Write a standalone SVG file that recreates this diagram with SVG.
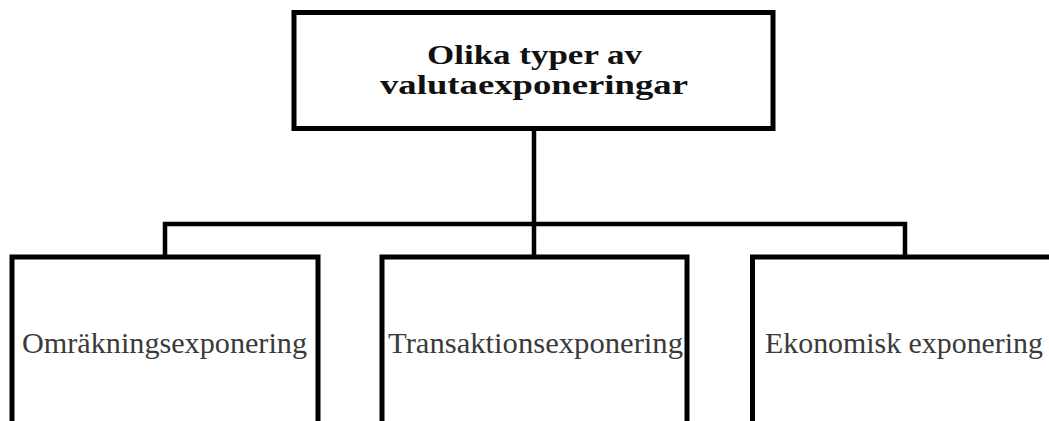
<svg xmlns="http://www.w3.org/2000/svg" width="1049" height="421" viewBox="0 0 1049 421">
  <style>
    .box { fill: #ffffff; stroke: #000000; stroke-width: 5; }
    .wire { fill: none; stroke: #000000; stroke-width: 4.5; }
    .title { font-family: "Liberation Serif", "DejaVu Serif", serif; font-weight: bold; font-size: 27px; fill: #111111; }
    .label { font-family: "Liberation Serif", "DejaVu Serif", serif; font-size: 29px; fill: #3a3a3a; }
  </style>
  <rect width="1049" height="421" fill="#ffffff"/>

  <!-- tree connectors -->
  <g id="connectors">
    <path class="wire" d="M534,128 V224"/>
    <path class="wire" d="M165,257 V224 H905 V257"/>
    <path class="wire" d="M534,224 V257"/>
  </g>

  <!-- root node -->
  <g id="root">
    <rect class="box" x="294" y="12.5" width="479" height="116"/>
    <text class="title" x="427" y="64" textLength="215" lengthAdjust="spacingAndGlyphs">Olika typer av</text>
    <text class="title" x="380" y="94" textLength="308" lengthAdjust="spacingAndGlyphs">valutaexponeringar</text>
  </g>

  <!-- child nodes -->
  <g id="omrakning">
    <rect class="box" x="12" y="257" width="306" height="190"/>
    <text class="label" x="22" y="353" textLength="285" lengthAdjust="spacingAndGlyphs">Omräkningsexponering</text>
  </g>

  <g id="transaktion">
    <rect class="box" x="382" y="257" width="305" height="190"/>
    <text class="label" x="388" y="353" textLength="295" lengthAdjust="spacingAndGlyphs">Transaktionsexponering</text>
  </g>

  <g id="ekonomisk">
    <rect class="box" x="752.5" y="257" width="305" height="190"/>
    <text class="label" x="765" y="353" textLength="278" lengthAdjust="spacingAndGlyphs">Ekonomisk exponering</text>
  </g>
</svg>
